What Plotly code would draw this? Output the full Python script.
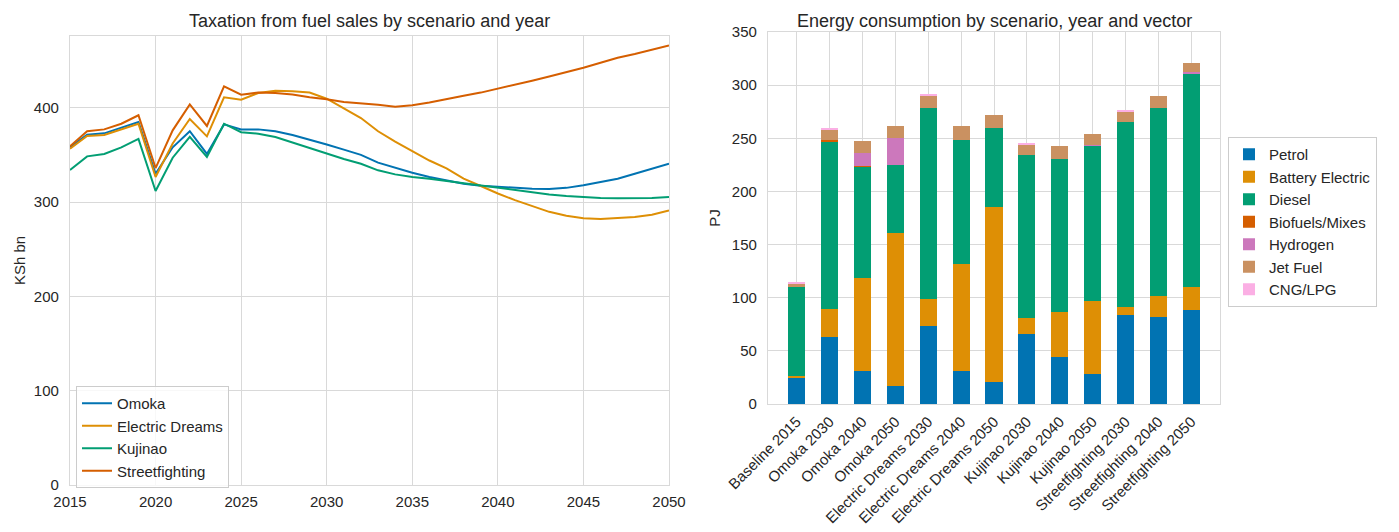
import plotly.graph_objects as go

years = list(range(2015, 2051))
omoka = [358, 371.4, 372.8, 378.4, 384.8, 330, 358, 375, 351, 382.3, 377, 377, 375, 371, 366.4,
         361, 355.5, 350, 341.7, 336, 331, 326.5, 322.6, 319.4, 317.3, 316, 315, 314, 313.8, 315,
         317.7, 321, 324.7, 330, 335.3, 340.6]
electric_dreams = [356.5, 370, 371, 377, 383, 326.5, 362, 388, 369.6, 411, 408.5, 415.5, 418, 417.3, 416,
                   409.5, 399, 389, 375, 364, 354, 344, 335.7, 324.7, 317, 309, 302, 295.5, 289.6, 285.5,
                   282.7, 282, 282.7, 284, 286.6, 291]
kujinao = [334, 348.4, 351, 358, 367, 311.7, 347, 369, 347.7, 383, 374, 372.4, 369, 363, 357.6,
           351, 345.6, 340.6, 333.6, 329.3, 326.5, 324.7, 322.3, 319.4, 317, 314.5, 312.4, 310.2, 308, 306.4,
           305.3, 304.2, 304, 304, 304.2, 305.3]
streetfighting = [359, 375, 377, 383, 392, 336, 376, 403.5, 380.6, 422.6, 413.8, 416, 415.5, 414, 411,
                  409, 406, 404.6, 403, 401, 402.5, 405.6, 409.5, 412.7, 416, 420, 424, 428.6, 433, 437.5,
                  442.4, 447.7, 453, 457, 461.5, 466]

scenario_names = ["Omoka", "Electric Dreams", "Kujinao", "Streetfighting"]
scenario_series = [omoka, electric_dreams, kujinao, streetfighting]
scenario_colors = ["#0173B2", "#DE8F05", "#029E73", "#D55E00"]

categories = ["Baseline 2015", "Omoka 2030", "Omoka 2040", "Omoka 2050",
              "Electric Dreams 2030", "Electric Dreams 2040", "Electric Dreams 2050",
              "Kujinao 2030", "Kujinao 2040", "Kujinao 2050",
              "Streetfighting 2030", "Streetfighting 2040", "Streetfighting 2050"]
petrol = [24, 62.8, 31.5, 16.7, 73.2, 31.5, 20.5, 65.9, 44, 28, 83.6, 82, 88.6]
battery_electric = [2.8, 26.5, 87.1, 143.9, 25.5, 100.5, 165.3, 14.9, 42.7, 69, 7.9, 19.9, 21.8]
diesel = [83.2, 158, 104.4, 64.4, 179.9, 116.6, 74.1, 153.7, 144.1, 146, 174, 176.7, 200.8]
biofuels = [0, 1.3, 1.3, 0, 0, 0, 0, 0, 0, 0, 0, 0, 0]
hydrogen = [0, 0, 11.7, 25.5, 0, 0, 0, 0, 0, 1, 0, 0, 0.9]
jet_fuel = [3, 10, 11.3, 11, 11.4, 13.4, 11.9, 10, 11.8, 10, 10.1, 11, 8.5]
cng_lpg = [1, 0.9, 0, 0, 0.8, 0, 0, 1, 0, 0, 0.9, 0, 0]

vector_names = ["Petrol", "Battery Electric", "Diesel", "Biofuels/Mixes", "Hydrogen", "Jet Fuel", "CNG/LPG"]
vector_series = [petrol, battery_electric, diesel, biofuels, hydrogen, jet_fuel, cng_lpg]
vector_colors = ["#0173B2", "#DE8F05", "#029E73", "#D55E00", "#CC78BC", "#CA9161", "#FBAFE4"]

# page body has an 8px margin; figure sized to fit the 1399x532 window
OFF = 8
W, H = 1399 - OFF, 532 - OFF


def px(x):
    return (x - OFF) / W


def py(y):
    return (532 - y) / H


FONT = "Liberation Sans, Arial, sans-serif"
TXT = "#262626"
GRID = "#d9d9d9"

fig = go.Figure()

for name, vals, col in zip(scenario_names, scenario_series, scenario_colors):
    fig.add_trace(go.Scatter(x=years, y=vals, mode="lines", name=name,
                             line=dict(color=col, width=2), xaxis="x", yaxis="y",
                             legend="legend"))

for name, vals, col in zip(vector_names, vector_series, vector_colors):
    fig.add_trace(go.Bar(x=categories, y=vals, name=name, marker=dict(color=col, line=dict(width=0)),
                         width=0.52, xaxis="x2", yaxis="y2", legend="legend2"))

axis_common = dict(showgrid=True, gridcolor=GRID, gridwidth=1, showline=True, linecolor=GRID,
                   linewidth=1.2, mirror=True, zeroline=False, ticks="", automargin=False,
                   tickfont=dict(size=15, color=TXT, family=FONT))

fig.update_layout(
    width=W, height=H,
    margin=dict(l=0, r=0, t=0, b=0, pad=0),
    paper_bgcolor="white", plot_bgcolor="white",
    font=dict(family=FONT, color=TXT, size=15),
    barmode="stack",
    xaxis=dict(domain=[px(70), px(669)], anchor="y", range=[2015, 2050],
               tickvals=list(range(2015, 2051, 5)), ticklabelstandoff=3, **axis_common),
    yaxis=dict(domain=[py(485), py(36)], anchor="x", range=[0, 476],
               tickvals=[0, 100, 200, 300, 400], ticklabelstandoff=7,
               title=dict(text="KSh bn", font=dict(size=15, color=TXT), standoff=4), **axis_common),
    xaxis2=dict(domain=[px(768), px(1220)], anchor="y2", range=[-0.87, 12.87],
                tickangle=-45, type="category", ticklabelstandoff=2, **axis_common),
    yaxis2=dict(domain=[py(404), py(32)], anchor="x2", range=[0, 350],
                tickvals=list(range(0, 351, 50)), ticklabelstandoff=7,
                title=dict(text="PJ", font=dict(size=15, color=TXT), standoff=7), **axis_common),
    legend=dict(x=px(76), y=py(386), xanchor="left", yanchor="top",
                bgcolor="rgba(255,255,255,0.8)", bordercolor="#cccccc", borderwidth=1,
                font=dict(size=15, color=TXT, family=FONT), tracegroupgap=0, itemwidth=30),
    legend2=dict(x=px(1228), y=py(137), xanchor="left", yanchor="top",
                 bgcolor="white", bordercolor="#cccccc", borderwidth=1,
                 font=dict(size=15, color=TXT, family=FONT), traceorder="normal", itemwidth=30),
    annotations=[
        dict(text="Taxation from fuel sales by scenario and year", x=px((70 + 669) / 2), y=py(21),
             xref="paper", yref="paper", showarrow=False, font=dict(size=18, color=TXT, family=FONT),
             xanchor="center", yanchor="middle"),
        dict(text="Energy consumption by scenario, year and vector", x=px((768 + 1220) / 2), y=py(9),
             xref="paper", yref="paper", showarrow=False, font=dict(size=18, color=TXT, family=FONT),
             xanchor="center", yanchor="top"),
    ],
)

fig.write_html("out.html")
